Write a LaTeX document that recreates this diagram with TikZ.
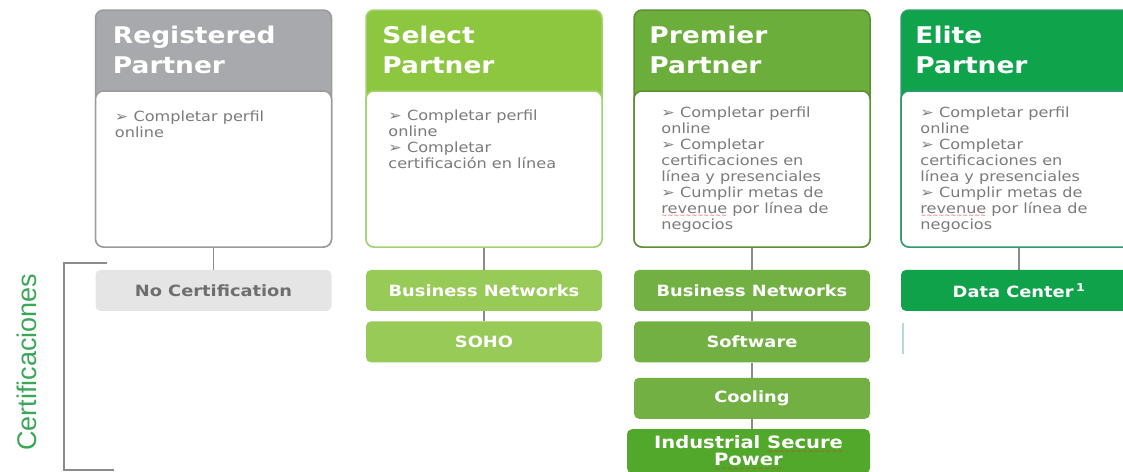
\documentclass[tikz,border=0pt]{standalone}
\usepackage{fontspec}
\setmainfont{DejaVu Sans}[FakeStretch=1.15]
\newfontfamily\certfont{Liberation Sans}
\usetikzlibrary{positioning}
\definecolor{regGray}{HTML}{A7A9AC}
\definecolor{regEdge}{HTML}{9B9B9B}
\definecolor{selGreen}{HTML}{8DC63F}
\definecolor{selEdge}{HTML}{A3D170}
\definecolor{preGreen}{HTML}{6BAE3B}
\definecolor{preEdge}{HTML}{5D8E34}
\definecolor{eliGreen}{HTML}{0FA34C}
\definecolor{eliEdge}{HTML}{2E9A6E}
\definecolor{noCertGray}{HTML}{E5E5E5}
\definecolor{noCertText}{HTML}{6E6E6E}
\definecolor{selCert}{HTML}{97CA57}
\definecolor{preCert}{HTML}{72B043}
\definecolor{indCert}{HTML}{52A82B}
\definecolor{dcGreen}{HTML}{10A24B}
\definecolor{lineGray}{HTML}{8C8C8C}
\definecolor{bodyGray}{HTML}{7B7B7B}
\definecolor{certGreen}{HTML}{3AA657}
\definecolor{spellRed}{HTML}{E03030}
\newcommand\spellerr[1]{\setbox0\hbox{#1}\rlap{\raisebox{-4.3pt}[0pt][0pt]{\hbox to\wd0{\color{spellRed}\mdseries\fontsize{6}{6}\selectfont\xleaders\hbox{\char"223C}\hfill}}}#1}

\begin{document}
\begin{tikzpicture}[x=1pt,y=-1pt]
\tikzset{card/.style={rounded corners=8pt, line width=1.5pt, minimum width=236pt, minimum height=237pt, inner sep=0pt},
  cardbody/.style={rounded corners=8pt, line width=1.5pt, fill=white, minimum width=236pt, minimum height=156pt, inner sep=0pt, anchor=south},
  headtext/.style={inner sep=0pt, align=left, text=white, font=\bfseries\fontsize{23}{30}\selectfont},
  bodytext/.style={inner sep=0pt, align=left, text=bodyGray, font=\fontsize{14}{16}\selectfont},
  certbox/.style={rounded corners=5pt, minimum width=236pt, minimum height=41pt, inner sep=0pt, text=white, font=\bfseries\fontsize{15.5}{17}\selectfont},
  link/.style={draw=lineGray, line width=1.5pt}}
\useasboundingbox (0,0) rectangle (1123,471);
\clip (0,0) rectangle (1123,471);
% partner cards
\node[card, fill=regGray, draw=regEdge] (reg) at (213.5,128.5) {};
\node[cardbody, draw=regEdge] (regbody) at (reg.south) {};
\node[card, fill=selGreen, draw=selEdge] (sel) at (484,128.5) {};
\node[cardbody, draw=selEdge] (selbody) at (sel.south) {};
\node[card, fill=preGreen, draw=preEdge] (pre) at (752,128.5) {};
\node[cardbody, draw=preEdge] (prebody) at (pre.south) {};
\node[card, fill=eliGreen, draw=eliEdge] (eli) at (1019,128.5) {};
\node[cardbody, draw=eliEdge] (elibody) at (eli.south) {};
\node[headtext, below right=17pt and 18pt of reg.north west] (regtitle) {Registered\\Partner};
\node[headtext, below right=17pt and 17pt of sel.north west] (seltitle) {Select\\Partner};
\node[headtext, below right=17pt and 16pt of pre.north west] (pretitle) {Premier\\Partner};
\node[headtext, below right=17pt and 15pt of eli.north west] (elititle) {Elite\\Partner};
\node[bodytext, below right=101pt and 20pt of reg.north west] (regtext) {➢ Completar perfil\\online};
\node[bodytext, below right=100pt and 23pt of sel.north west] (seltext) {➢ Completar perfil\\online\\➢ Completar\\certificación en línea};
\node[bodytext, below right=97pt and 28pt of pre.north west] (pretext) {➢ Completar perfil\\online\\➢ Completar\\certificaciones en\\línea y presenciales\\➢ Cumplir metas de\\\spellerr{revenue} por línea de\\negocios};
\node[bodytext, below right=97pt and 20pt of eli.north west] (elitext) {➢ Completar perfil\\online\\➢ Completar\\certificaciones en\\línea y presenciales\\➢ Cumplir metas de\\\spellerr{revenue} por línea de\\negocios};
% certification boxes
\node[certbox, fill=noCertGray, text=noCertText, below=22pt of reg] (nocert) {No Certification};
\node[certbox, fill=selCert, below=22pt of sel] (selbn) {Business Networks};
\node[certbox, fill=selCert, below=10pt of selbn] (soho) {SOHO};
\node[certbox, fill=preCert, below=22pt of pre] (prebn) {Business Networks};
\node[certbox, fill=preCert, below=10pt of prebn] (software) {Software};
\node[certbox, fill=preCert, below=15pt of software] (cooling) {Cooling};
\node[certbox, fill=indCert, minimum width=243pt, minimum height=44pt, align=center, font=\bfseries\fontsize{17}{17}\selectfont, below=10pt of cooling, xshift=-3.5pt] (indpower) {Industrial \spellerr{Secure}\\\spellerr{Power}};
\node[certbox, fill=dcGreen, below=22pt of eli] (dc) {Data Center\,\raisebox{1pt}{\textsuperscript{1}}};
\draw[link] (reg) -- (nocert);
\draw[link] (sel) -- (selbn);
\draw[link] (selbn) -- (soho);
\draw[link] (pre) -- (prebn);
\draw[link] (prebn) -- (software);
\draw[link] (software) -- (cooling);
\draw[link] (cooling.south) -- (cooling.south |- indpower.north);
\draw[link] (eli) -- (dc);
\draw[draw=eliEdge!35, line width=1.5pt] ([yshift=-12pt, xshift=2pt]dc.south west) -- ++(0,31);
% side label
\draw[draw=lineGray, line width=1.3pt] (107,263) -- (64,263) -- (64,470) -- (114,470);
\node[rotate=90, text=certGreen, font=\certfont\fontsize{27}{27}\selectfont] (certs) at (27,362) {Certificaciones};
\end{tikzpicture}
\end{document}
